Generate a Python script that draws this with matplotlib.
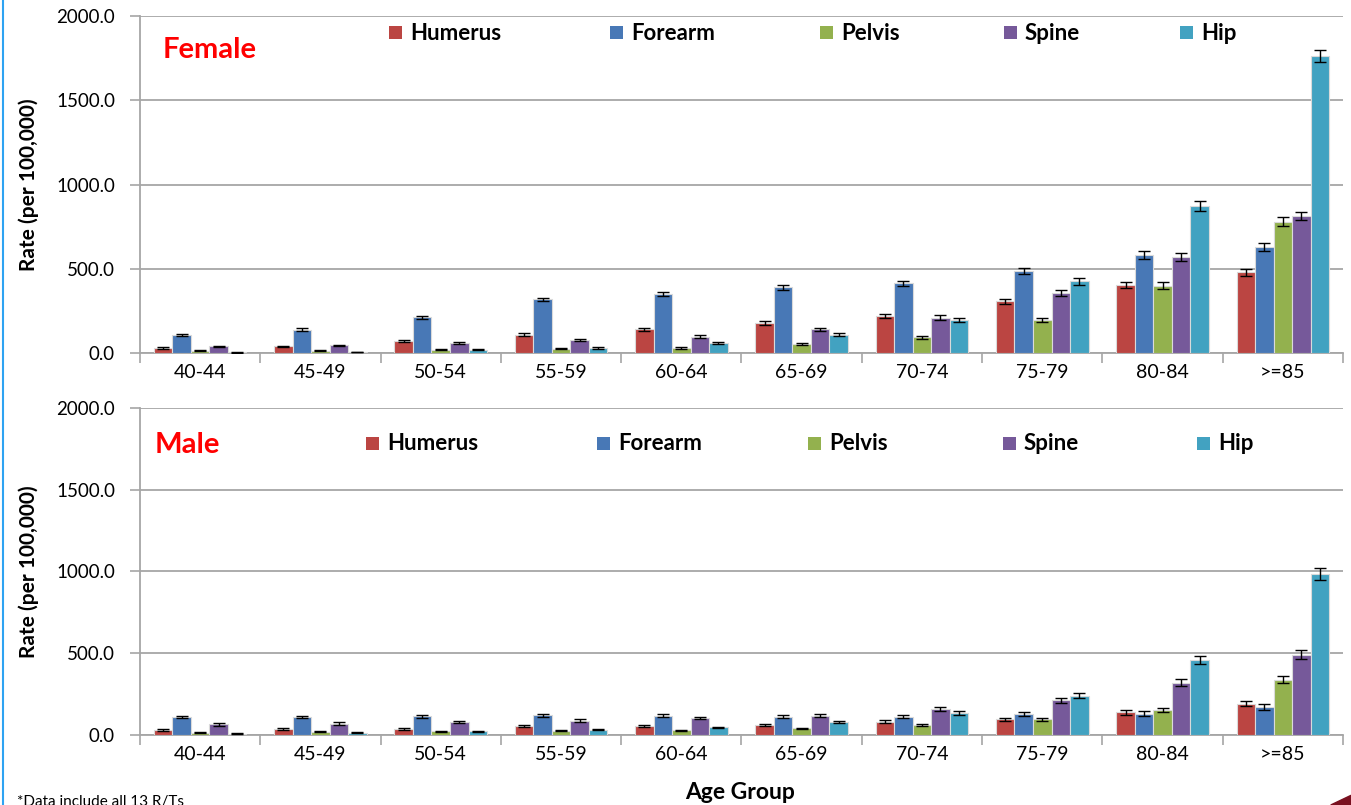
import numpy as np
import matplotlib
matplotlib.use('Agg')
from matplotlib import pyplot as plt
from matplotlib.lines import Line2D
from matplotlib.patches import Polygon, Rectangle

plt.rcParams['font.family'] = ['Lato', 'DejaVu Sans']

age_groups = ['40-44', '45-49', '50-54', '55-59', '60-64', '65-69', '70-74', '75-79', '80-84', '>=85']
sites = ['Humerus', 'Forearm', 'Pelvis', 'Spine', 'Hip']
colors = ['#BB4542', '#4878B6', '#93B14E', '#76599A', '#42A2C1']

# female rates per 100,000 (rows: sites)
female_humerus = [30, 39, 71, 109, 141, 178, 218, 307, 404, 479]
female_forearm = [107, 138, 211, 318, 350, 390, 414, 485, 582, 629]
female_pelvis = [12, 12, 20, 25, 28, 55, 92, 198, 400, 780]
female_spine = [39, 45, 60, 77, 97, 141, 210, 354, 570, 811]
female_hip = [4, 6, 18, 30, 60, 108, 198, 425, 871, 1761]

female_humerus_err = [4, 4, 6, 7, 8, 9, 11, 14, 20, 20]
female_forearm_err = [8, 8, 10, 10, 12, 14, 15, 18, 22, 22]
female_pelvis_err = [3, 3, 3, 4, 5, 7, 11, 12, 20, 25]
female_spine_err = [5, 5, 7, 7, 9, 10, 15, 17, 22, 24]
female_hip_err = [2, 2, 3, 6, 7, 8, 12, 20, 30, 36]

# male rates per 100,000
male_humerus = [31, 37, 37, 53, 57, 63, 80, 96, 139, 192]
male_forearm = [110, 110, 114, 120, 118, 112, 112, 128, 131, 171]
male_pelvis = [14, 20, 22, 26, 29, 41, 63, 96, 153, 339]
male_spine = [65, 69, 81, 88, 102, 118, 157, 211, 320, 492]
male_hip = [8, 14, 22, 32, 47, 80, 135, 240, 459, 985]

male_humerus_err = [7, 5, 7, 6, 6, 6, 9, 10, 14, 16]
male_forearm_err = [8, 8, 9, 10, 8, 9, 11, 11, 13, 18]
male_pelvis_err = [3, 3, 3, 4, 3, 4, 7, 10, 14, 22]
male_spine_err = [8, 9, 5, 9, 6, 8, 11, 15, 20, 25]
male_hip_err = [2, 3, 3, 4, 4, 8, 12, 15, 23, 39]

female = [female_humerus, female_forearm, female_pelvis, female_spine, female_hip]
female_err = [female_humerus_err, female_forearm_err, female_pelvis_err, female_spine_err, female_hip_err]
male = [male_humerus, male_forearm, male_pelvis, male_spine, male_hip]
male_err = [male_humerus_err, male_forearm_err, male_pelvis_err, male_spine_err, male_hip_err]

grid_c = '#A6A6A6'
W, H = 1351., 805.


def px(x, y):
    # figure pixel (from top-left) -> figure fraction
    return x / W, 1 - y / H


def legend_row(fig, xs, yc):
    for i in range(len(sites)):
        x0, y0 = px(xs[i], yc + 6.5)
        fig.add_artist(Rectangle((x0, y0), 13 / W, 13 / H, transform=fig.transFigure,
                                 facecolor=colors[i], edgecolor='none'))
        tx, ty = px(xs[i] + 21, yc)
        fig.text(tx, ty, sites[i], fontsize=16, fontweight='bold', ha='left', va='center')


def draw_panel(ax, vals, errs):
    n = len(age_groups)
    x = np.arange(n)
    w = 0.154
    for i in range(len(sites)):
        off = (i - 2) * w
        ax.bar(x + off, vals[i], w, color=colors[i], edgecolor='#DADADA', linewidth=0.8,
               label=sites[i], zorder=3)
        ax.errorbar(x + off, vals[i], yerr=errs[i], fmt='none', ecolor='black',
                    elinewidth=1.0, capsize=4, capthick=1.0, zorder=4)
    ax.set_xlim(-0.5, n - 0.5)
    ax.set_ylim(0, 2000)
    ax.set_yticks([0, 500, 1000, 1500, 2000])
    ax.set_yticklabels(['%.1f' % v for v in [0, 500, 1000, 1500, 2000]], fontsize=13.5)
    ax.yaxis.grid(True, color=grid_c, linewidth=1.3, zorder=0)
    ax.set_axisbelow(True)
    ax.set_xticks(np.arange(n + 1) - 0.5)
    ax.set_xticklabels([])
    ax.set_xticks(x, minor=True)
    ax.set_xticklabels(age_groups, minor=True, fontsize=14)
    ax.tick_params(axis='x', which='major', length=7, color=grid_c, width=1.2)
    ax.tick_params(axis='x', which='minor', length=0, pad=8)
    ax.tick_params(axis='y', length=7, color=grid_c, width=1.2, pad=11)
    for s in ['top', 'right']:
        ax.spines[s].set_visible(False)
    for s in ['left', 'bottom']:
        ax.spines[s].set_color(grid_c)
        ax.spines[s].set_linewidth(1.3)
    ax.set_ylabel('Rate (per 100,000)', fontsize=15, fontweight='bold')
    ax.yaxis.set_label_coords(-0.084, 0.5)


fig = plt.figure(figsize=(13.51, 8.05), dpi=100)
ax1 = fig.add_axes([0.1036, 0.5615, 0.8905, 0.4186])
ax2 = fig.add_axes([0.1036, 0.0870, 0.8905, 0.4062])

draw_panel(ax1, female, female_err)
draw_panel(ax2, male, male_err)

fig.text(*px(163, 50), 'Female', color='#FF0000', fontsize=21, fontweight='bold', ha='left', va='center')
fig.text(*px(155, 445), 'Male', color='#FF0000', fontsize=21, fontweight='bold', ha='left', va='center')
legend_row(fig, [389, 610, 820, 1004, 1180], 33)
legend_row(fig, [366, 597, 808, 1003, 1197], 443)

fig.text(*px(740, 792), 'Age Group', fontsize=16.5, fontweight='bold', ha='center', va='center')
fig.text(*px(17, 795), '*Data include all 13 R/Ts', fontsize=11, ha='left', va='top')

# left border line and corner decoration
fig.add_artist(Line2D([0.0022, 0.0022], [0, 1], transform=fig.transFigure, color='#2EA3F2', linewidth=1.5))
fig.add_artist(Polygon([[0.985, 0.0], [1.0, 0.012], [1.0, 0.0]], closed=True,
                       transform=fig.transFigure, color='#7A1020'))

plt.savefig('out.png', dpi=100)
